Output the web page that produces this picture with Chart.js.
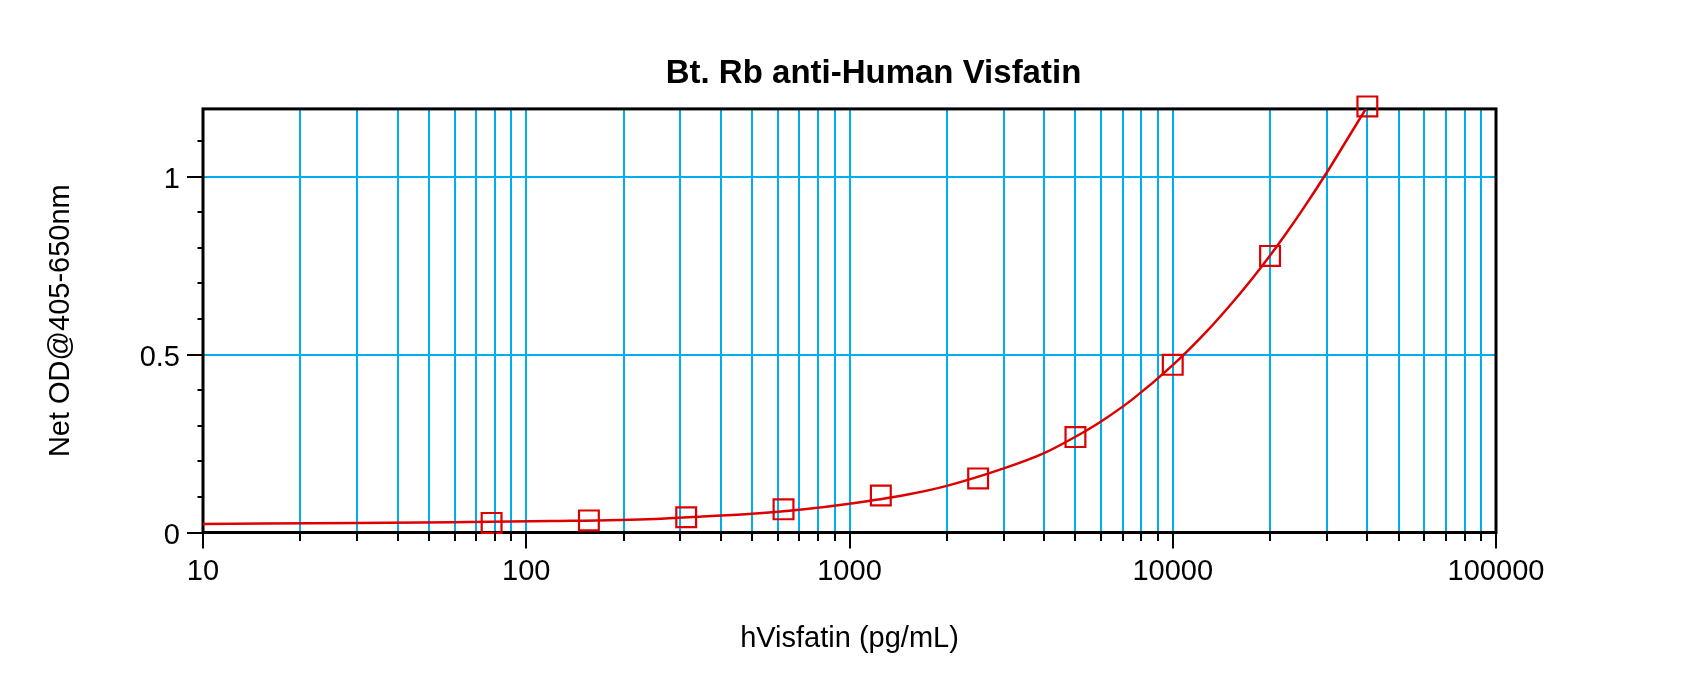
<!DOCTYPE html>
<html>
<head>
<meta charset="utf-8">
<title>Bt. Rb anti-Human Visfatin</title>
<script src="https://cdn.jsdelivr.net/npm/chart.js@4.4.1/dist/chart.umd.min.js"></script>
<style>
  html, body { margin: 0; padding: 0; background: #fff; }
  canvas { display: block; }
</style>
</head>
<body>
<canvas id="std_curve" width="1700" height="673"></canvas>
<script>
// standards (pg/mL) and their net OD
const stdConc = [78.125, 156.25, 312.5, 625, 1250, 2500, 5000, 10000, 20000, 40000];
const stdOD = [0.027, 0.034, 0.043, 0.065, 0.104, 0.152, 0.268, 0.471, 0.777, 1.197];

// fitted curve
const fitConc = [10, 30, 60, 120, 250, 350, 500, 700, 1000, 1500, 2000, 3000, 4000,
  5000, 6000, 7500, 10000, 12500, 15000, 17500, 20000, 22500, 25000, 30000, 35000, 40000];
const fitOD = [0.024, 0.027, 0.029, 0.032, 0.038, 0.045, 0.053, 0.064, 0.081, 0.106, 0.131, 0.180, 0.223,
  0.269, 0.312, 0.374, 0.470, 0.557, 0.637, 0.710, 0.778, 0.842, 0.902, 1.012, 1.111, 1.197];

const xTicks = [10, 20, 30, 40, 50, 60, 70, 80, 90,
  100, 200, 300, 400, 500, 600, 700, 800, 900,
  1000, 2000, 3000, 4000, 5000, 6000, 7000, 8000, 9000,
  10000, 20000, 30000, 40000, 50000, 60000, 70000, 80000, 90000, 100000];
const xLabels = [10, 100, 1000, 10000, 100000];
const yTicks = [0, 0.1, 0.2, 0.3, 0.4, 0.5, 0.6, 0.7, 0.8, 0.9, 1, 1.1];
const yLabels = [0, 0.5, 1];

const chartTitle = 'Bt. Rb anti-Human Visfatin';
const gridBlue = '#00AEEF';
const red = '#DD0000';

Chart.defaults.font.family = '"Liberation Sans", Arial, sans-serif';
Chart.defaults.color = '#000';

// box round the plot, tick marks of two lengths, and the title
const axisFrame = {
  id: 'axisFrame',
  beforeDatasetsDraw(chart) {
    const {ctx, chartArea: a} = chart;
    ctx.save();
    ctx.strokeStyle = '#000';
    ctx.lineWidth = 3;
    ctx.strokeRect(a.left, a.top, a.right - a.left, a.bottom - a.top);
    ctx.restore();
  },
  afterDraw(chart) {
    const {ctx, chartArea: a, scales} = chart;
    ctx.save();
    ctx.strokeStyle = '#000';
    ctx.lineWidth = 2;
    ctx.beginPath();
    scales.x.ticks.forEach(t => {
      const px = Math.round(scales.x.getPixelForValue(t.value));
      const len = xLabels.includes(t.value) ? 16 : 8.5;
      ctx.moveTo(px, a.bottom);
      ctx.lineTo(px, a.bottom + len);
    });
    scales.y.ticks.forEach(t => {
      const py = Math.round(scales.y.getPixelForValue(t.value));
      const len = yLabels.includes(t.value) ? 16 : 5.5;
      ctx.moveTo(a.left, py);
      ctx.lineTo(a.left - len, py);
    });
    ctx.stroke();

    ctx.fillStyle = '#000';
    ctx.font = 'bold 33px "Liberation Sans", Arial, sans-serif';
    ctx.textAlign = 'center';
    ctx.textBaseline = 'alphabetic';
    ctx.fillText(chartTitle, (a.left + a.right) / 2 + 24, 83);
    ctx.restore();
  }
};

const config = {
  type: 'line',
  data: {
    datasets: [{
      label: 'Fit',
      data: fitConc.map((c, i) => ({x: c, y: fitOD[i]})),
      borderColor: red,
      borderWidth: 2.5,
      pointRadius: 0,
      cubicInterpolationMode: 'monotone',
      fill: false
    }, {
      label: 'Standards',
      data: stdConc.map((c, i) => ({x: c, y: stdOD[i]})),
      showLine: false,
      pointStyle: 'rect',
      pointRadius: 14,
      pointBorderWidth: 2.2,
      pointBorderColor: red,
      pointBackgroundColor: 'rgba(0,0,0,0)',
      clip: false
    }]
  },
  options: {
    responsive: false,
    animation: false,
    events: [],
    layout: { padding: { top: 108.9, right: 204, bottom: 0, left: 0 } },
    plugins: {
      legend: { display: false },
      tooltip: { enabled: false }
    },
    scales: {
      x: {
        type: 'logarithmic',
        min: 10,
        max: 100000,
        afterBuildTicks: s => { s.ticks = xTicks.map(v => ({value: v})); },
        afterFit: s => { s.height = 140.5; },
        grid: { color: gridBlue, lineWidth: 2, drawTicks: false },
        border: { display: false },
        ticks: {
          autoSkip: false,
          maxRotation: 0,
          padding: 22,
          font: { size: 29 },
          callback: v => xLabels.includes(v) ? String(v) : ''
        },
        title: {
          display: true,
          text: 'hVisfatin (pg/mL)',
          font: { size: 29 },
          padding: { top: 0, bottom: 16.6 }
        }
      },
      y: {
        min: 0,
        max: 1.19,
        afterBuildTicks: s => { s.ticks = yTicks.map(v => ({value: v})); },
        afterFit: s => { s.width = 203; },
        grid: {
          color: c => yLabels.includes(c.tick.value) ? gridBlue : 'rgba(0,0,0,0)',
          lineWidth: 2,
          drawTicks: false
        },
        border: { display: false },
        ticks: {
          padding: 23,
          labelOffset: 3,
          font: { size: 29 },
          callback: v => yLabels.includes(v) ? String(v) : ''
        },
        title: {
          display: true,
          text: 'Net OD@405-650nm',
          font: { size: 29 },
          padding: { top: 43.6, bottom: 0 }
        }
      }
    }
  },
  plugins: [axisFrame]
};

const std_curve = new Chart(document.getElementById('std_curve'), config);
</script>
</body>
</html>
